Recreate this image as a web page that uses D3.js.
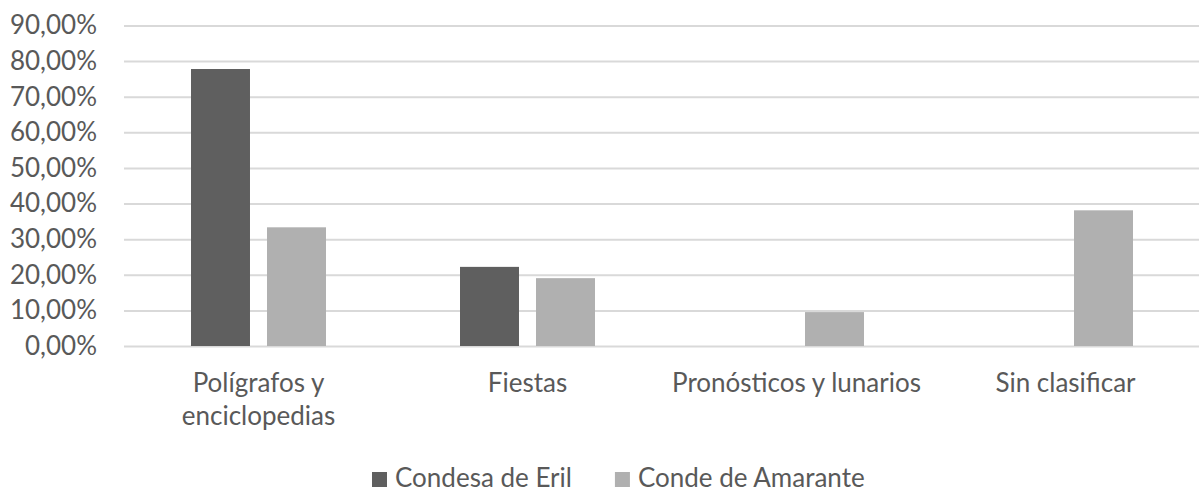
<!DOCTYPE html>
<html lang="es">
<head>
<meta charset="utf-8">
<title>Condesa de Eril / Conde de Amarante</title>
<script src="https://cdnjs.cloudflare.com/ajax/libs/d3/7.8.5/d3.min.js"></script>
<style>
  html, body { margin: 0; padding: 0; background: #fff; }
  svg text { font-family: Lato, "Open Sans", sans-serif; fill: #595959; }
</style>
</head>
<body>
<div id="chart"></div>
<script>
// data
var categories = ["Polígrafos y enciclopedias", "Fiestas", "Pronósticos y lunarios", "Sin clasificar"];
var seriesNames = ["Condesa de Eril", "Conde de Amarante"];
var condesaEril = [0.7778, 0.2222, 0, 0];
var condeAmarante = [0.3333, 0.1905, 0.0952, 0.3810];
var yTicks = [0, 0.1, 0.2, 0.3, 0.4, 0.5, 0.6, 0.7, 0.8, 0.9];
var colors = ["#5f5f5f", "#b0b0b0"];

var width = 1199, height = 493;
// note: "top" is taken by window.top, so use other names
var plotLeft = 124, plotRight = 1200, plotTop = 25.5, plotBottom = 346;

var rows = categories.map(function(c, i) {
  return { cat: c, values: [condesaEril[i], condeAmarante[i]] };
});

var svg = d3.select("#chart").append("svg")
  .attr("width", width)
  .attr("height", height);

var y = d3.scaleLinear().domain([0, 0.9]).range([plotBottom, plotTop]);
var x0 = d3.scaleBand().domain(categories).range([plotLeft, plotRight]).padding(0);
var x1 = d3.scaleBand().domain(seriesNames).range([67, 202]).paddingInner(0.224).paddingOuter(0);

var es = d3.formatLocale({ decimal: ",", thousands: ".", grouping: [3], currency: ["", " €"] });
var pct = es.format(".2%");

// y axis + gridlines
var yAxis = svg.append("g")
  .attr("transform", "translate(" + plotLeft + ",0)")
  .call(d3.axisLeft(y).tickValues(yTicks).tickFormat(pct)
    .tickSizeInner(-(width - plotLeft)).tickSizeOuter(0).tickPadding(27));
yAxis.select(".domain").remove();
yAxis.selectAll(".tick line").attr("stroke", "#d9d9d9").attr("stroke-width", 2);
yAxis.selectAll(".tick text")
  .style("font-size", "26px")
  .attr("fill", "#595959");

// bars
var groups = svg.append("g").selectAll("g")
  .data(rows).enter().append("g")
  .attr("transform", function(d) { return "translate(" + x0(d.cat) + ",0)"; });

groups.selectAll("rect")
  .data(function(d) { return d.values.map(function(v, j) { return { name: seriesNames[j], value: v, j: j }; }); })
  .enter().append("rect")
  .filter(function(d) { return d.value > 0; })
  .attr("x", function(d) { return x1(d.name); })
  .attr("width", x1.bandwidth())
  .attr("y", function(d) { return y(d.value); })
  .attr("height", function(d) { return y(0) - y(d.value); })
  .attr("fill", function(d) { return colors[d.j]; });

// category labels, wrapped to the band width
var labels = svg.append("g").selectAll("text")
  .data(categories).enter().append("text")
  .attr("x", function(d) { return x0(d) + x0.bandwidth() / 2; })
  .attr("y", 392)
  .attr("text-anchor", "middle")
  .style("font-size", "26px");

labels.each(function(d) {
  var t = d3.select(this), words = d.split(" "), line = [];
  var ts = t.append("tspan").attr("x", t.attr("x"));
  words.forEach(function(w) {
    line.push(w);
    ts.text(line.join(" "));
    if (ts.node().getComputedTextLength() > x0.bandwidth() - 10 && line.length > 1) {
      line.pop();
      ts.text(line.join(" "));
      line = [w];
      ts = t.append("tspan").attr("x", t.attr("x")).attr("dy", 33).text(w);
    }
  });
});

// legend
var legend = svg.append("g");
var lx = 372;
seriesNames.forEach(function(name, i) {
  legend.append("rect")
    .attr("x", lx).attr("y", 472)
    .attr("width", 15).attr("height", 15)
    .attr("fill", colors[i]);
  var txt = legend.append("text")
    .attr("x", lx + 23).attr("y", 487)
    .style("font-size", "26px")
    .text(name);
  lx = lx + 23 + txt.node().getComputedTextLength() + 43;
});
</script>
</body>
</html>
